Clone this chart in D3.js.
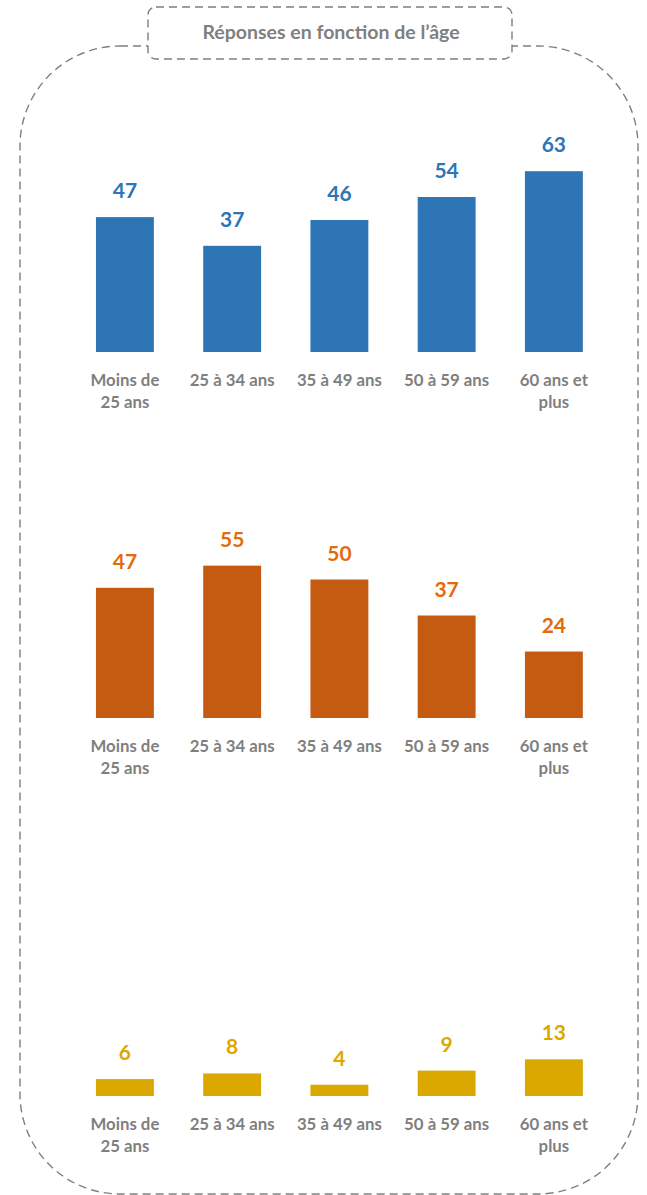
<!DOCTYPE html>
<html>
<head>
<meta charset="utf-8">
<script src="https://cdn.jsdelivr.net/npm/d3@7"></script>
<style>
  html, body { margin: 0; padding: 0; background: #fff; }
  svg { display: block; font-family: Lato, "Open Sans", sans-serif; font-weight: bold; }
</style>
</head>
<body>
<div class="chart"></div>
<script>
// données
const title = 'Réponses en fonction de l’âge'
const categories = ['Moins de\n25 ans', '25 à 34 ans', '35 à 49 ans', '50 à 59 ans', '60 ans et\nplus']
const valuesA = [47, 37, 46, 54, 63]
const valuesB = [47, 55, 50, 37, 24]
const valuesC = [6, 8, 4, 9, 13]

const width = 647, height = 1195
const grey = '#7f7f7f'

// un panneau par série : ligne de base, px pour 100 unités, couleurs
const panels = [
    { values: valuesA, base: 352, span: 287, bar: '#2e75b6', label: '#2e75b6' },
    { values: valuesB, base: 718, span: 277, bar: '#c55a11', label: '#e36c0a' },
    { values: valuesC, base: 1096, span: 282, bar: '#dba800', label: '#dba800' }
]

const svg = d3.select('.chart')
    .append('svg')
    .attr('width', width)
    .attr('height', height)

// cadre extérieur en pointillés
svg.append('rect')
    .attr('x', 20)
    .attr('y', 46)
    .attr('width', 618)
    .attr('height', 1148)
    .attr('rx', 100)
    .attr('fill', 'none')
    .attr('stroke', grey)
    .attr('stroke-width', 1.4)
    .attr('stroke-dasharray', '8 5')

// cadre du titre
svg.append('rect')
    .attr('x', 148)
    .attr('y', 7)
    .attr('width', 364)
    .attr('height', 52)
    .attr('rx', 8)
    .attr('fill', '#fff')
    .attr('stroke', grey)
    .attr('stroke-width', 1.4)
    .attr('stroke-dasharray', '8 5')

svg.append('text')
    .attr('x', 331)
    .attr('y', 39)
    .attr('text-anchor', 'middle')
    .attr('fill', grey)
    .attr('font-size', 19.5)
    .text(title)

// échelle x commune (bandes)
const xScale = d3.scaleBand()
    .domain(d3.range(categories.length))
    .range([71.3, 607.5])
    .paddingInner(0.46)
    .paddingOuter(0.23)

panels.forEach(p => {
    const yScale = d3.scaleLinear()
        .domain([0, 100])
        .range([p.base, p.base - p.span])

    const g = svg.append('g')

    g.selectAll('rect')
        .data(p.values)
        .enter()
        .append('rect')
        .attr('x', (d, i) => xScale(i))
        .attr('y', d => yScale(d))
        .attr('width', xScale.bandwidth())
        .attr('height', d => p.base - yScale(d))
        .attr('fill', p.bar)

    g.selectAll('text.val')
        .data(p.values)
        .enter()
        .append('text')
        .attr('class', 'val')
        .attr('x', (d, i) => xScale(i) + xScale.bandwidth() / 2)
        .attr('y', d => yScale(d) - 19)
        .attr('text-anchor', 'middle')
        .attr('font-size', 21)
        .attr('fill', p.label)
        .text(d => d)

    // libellés des catégories
    const cat = g.selectAll('text.cat')
        .data(categories)
        .enter()
        .append('text')
        .attr('class', 'cat')
        .attr('text-anchor', 'middle')
        .attr('font-size', 16.8)
        .attr('fill', grey)

    cat.each(function (d, i) {
        const cx = xScale(i) + xScale.bandwidth() / 2
        d.split('\n').forEach((line, k) => {
            d3.select(this).append('tspan')
                .attr('x', cx)
                .attr('y', p.base + 34 + k * 22)
                .text(line)
        })
    })
})
</script>
</body>
</html>
